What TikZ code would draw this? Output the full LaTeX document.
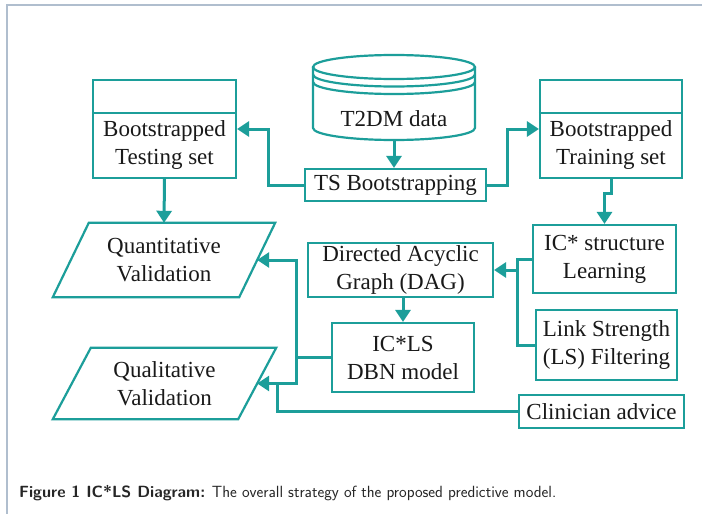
\documentclass[tikz,border=0pt]{standalone}
\usepackage{fontspec}
\setmainfont{Liberation Serif}
\usetikzlibrary{arrows.meta,calc}
\definecolor{tealc}{RGB}{28,158,154}
\definecolor{framec}{RGB}{176,190,206}
\definecolor{txt}{RGB}{25,25,25}
\begin{document}
\begin{tikzpicture}[x=1pt,y=-1pt,
  box/.style={draw=tealc,line width=2.2pt,inner sep=0pt,align=center,font=\fontsize{23}{28}\selectfont,text=txt},
  txtn/.style={inner sep=0pt,align=center,font=\fontsize{23}{28}\selectfont,text=txt},
  cyl/.style={draw=tealc,line width=2.2pt},
  conn/.style={draw=tealc,line width=3pt},
  arr/.style={conn,-{Triangle[length=12pt,width=15pt]}},
]
\fill[white] (0,0) rectangle (702,514);
\useasboundingbox (0,0) rectangle (702,514);
\draw[framec,line width=1.2pt] (7,514) -- (7,5) -- (702,5);

% bootstrapped sets
\node[box,minimum width=143pt,minimum height=98pt] (test) at (164.5,129) {};
\node[txtn] (testtxt) at (164.5,145.5) {Bootstrapped\\Testing set};
\draw[cyl] (test.west |- 0,113) -- (test.east |- 0,113);
\node[box,minimum width=142pt,minimum height=98pt] (train) at (611,129) {};
\node[txtn] (traintxt) at (611,145.5) {Bootstrapped\\Training set};
\draw[cyl] (train.west |- 0,113) -- (train.east |- 0,113);

% cylinder
\draw[cyl,fill=white] (313,67) -- (313,128) arc[start angle=180,end angle=360,x radius=81pt,y radius=12pt] -- (475,67);
\draw[cyl] (394,67) ellipse[x radius=81pt,y radius=12pt];
\draw[cyl] (313,74.5) arc[start angle=180,end angle=360,x radius=81pt,y radius=12pt];
\draw[cyl] (313,82) arc[start angle=180,end angle=360,x radius=81pt,y radius=12pt];
\node[txtn] (data) at (394,119) {T2DM data};
\coordinate (databot) at (394,140);

% process boxes
\node[box,minimum width=181pt,minimum height=32pt] (ts) at (395.5,185) {TS Bootstrapping};
\node[box,minimum width=185pt,minimum height=54pt] (dag) at (400.5,270) {Directed Acyclic\\Graph (DAG)};
\node[box,minimum width=143pt,minimum height=68pt] (ic) at (604.5,259) {IC* structure\\Learning};
\node[box,minimum width=142pt,minimum height=69pt] (dbn) at (403,357.5) {IC*LS\\DBN model};
\node[box,minimum width=141pt,minimum height=70pt] (ls) at (606.5,345) {Link Strength\\(LS) Filtering};
\node[box,minimum width=165pt,minimum height=33pt] (clin) at (601.5,411.5) {Clinician advice};

% parallelograms
\node[txtn,minimum width=222pt,minimum height=74pt] (quant) at (164,260) {Quantitative\\Validation};
\draw[cyl] ($(quant.north west)+(36,0)$) -- (quant.north east) -- ($(quant.south east)+(-36,0)$) -- (quant.south west) -- cycle;
\coordinate (quantin) at ($(quant.east)+(-18,0)$);
\node[txtn,minimum width=223pt,minimum height=71pt] (qual) at (164.5,383.5) {Qualitative\\Validation};
\draw[cyl] ($(qual.north west)+(38,0)$) -- (qual.north east) -- ($(qual.south east)+(-38,0)$) -- (qual.south west) -- cycle;
\coordinate (qualin) at ($(qual.east)+(-19,0)$);

% connectors
\draw[arr] (databot) -- (databot |- ts.north);
\draw[arr] (ts.west) -- ++(-35,0) |- (test.east);
\draw[arr] (ts.east) -- ++(20,0) |- (train.west);
\draw[arr] (test.south) -- (quant.north);
\draw[arr] (train.south) -- ++(0,14) -| (ic.north);
\draw[conn] (ic.west) -- ++(-14,0) coordinate (j1) |- (ls.west);
\draw[arr] (j1 |- dag.east) -- (dag.east);
\draw[arr] (dag.south -| dbn.north) -- (dbn.north);
\draw[conn] (dbn.west) -- ++(-34,0) coordinate (bus);
\draw[arr] (bus) |- (quantin);
\draw[arr] (bus) |- (qualin);
\draw[conn] (clin.west) -| ($(qualin)+(20,0)$);

% caption
\node[anchor=base west,inner sep=0pt,font=\sffamily\fontsize{16.2}{18}\selectfont,text=black!85] (cap) at (19,497) {\textbf{Figure 1 IC*LS Diagram:} The overall strategy of the proposed predictive model.};
\end{tikzpicture}
\end{document}
